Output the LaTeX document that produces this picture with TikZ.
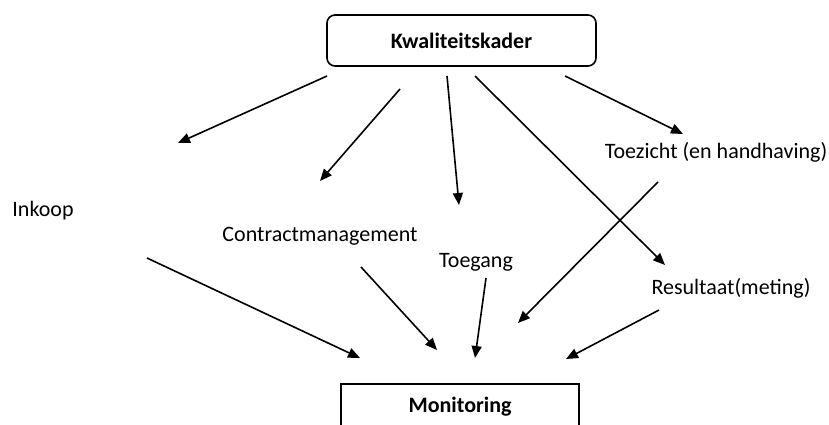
\documentclass[tikz,border=0pt]{standalone}
\usepackage{fontspec}
\setmainfont{Carlito}
\usetikzlibrary{arrows.meta}

\begin{document}
\begin{tikzpicture}[x=0.5pt, y=-0.5pt,
        pijl/.style={-{Triangle[length=6pt,width=5pt]}, line width=0.8pt},
        tekst/.style={anchor=base, inner sep=0pt, font=\fontsize{11}{13}\selectfont},
        kop/.style={draw, line width=0.8pt, font=\fontsize{11}{13}\selectfont\bfseries}]

        % canvas (pixel coordinates, y downwards)
        \useasboundingbox (0,0) rectangle (829,424);
        \clip (0,0) rectangle (829,424);

        % boxes
        \node[kop, rounded corners=4pt, minimum width=134.5pt, minimum height=25.5pt]
            (kader) at (461.5,40.5) {Kwaliteitskader};
        \node[kop, anchor=north, minimum width=119pt, inner ysep=6.5pt,
            text height=8pt, text depth=20pt] (monitoring) at (460,383) {Monitoring};

        % labels
        \node[tekst] (inkoop) at (43,216) {Inkoop};
        \node[tekst] (contract) at (320,241) {Contractmanagement};
        \node[tekst] (toegang) at (476,267) {Toegang};
        \node[tekst] (toezicht) at (716,158) {Toezicht (en handhaving)};
        \node[tekst] (resultaat) at (731,294) {Resultaat(meting)};

        % arrow ends, top half
        \coordinate (k1) at (327,76);   \coordinate (t1) at (178,143);
        \coordinate (k2) at (400,89);   \coordinate (t2) at (320,181);
        \coordinate (k3) at (447,76);   \coordinate (t3) at (459,205);
        \coordinate (k4) at (475,76);   \coordinate (t4) at (665,265);
        \coordinate (k5) at (565,76);   \coordinate (t5) at (683,134);

        % arrow ends, bottom half
        \coordinate (m1) at (147,258);  \coordinate (n1) at (360,358);
        \coordinate (m2) at (361,267);  \coordinate (n2) at (437,350);
        \coordinate (m3) at (486,278);  \coordinate (n3) at (475,358);
        \coordinate (m4) at (658,182);  \coordinate (n4) at (518,323);
        \coordinate (m5) at (659,310);  \coordinate (n5) at (566,359);

        % arrows
        \foreach \i in {1,...,5} {
            \draw[pijl] (k\i) -- (t\i);
            \draw[pijl] (m\i) -- (n\i);
        }

    \end{tikzpicture}
\end{document}
